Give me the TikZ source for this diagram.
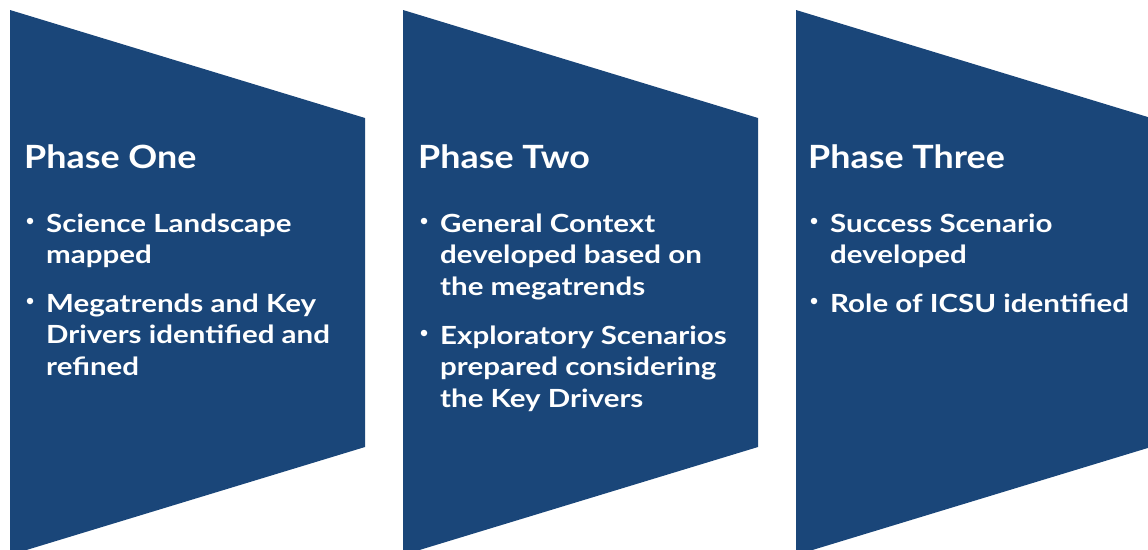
\documentclass[tikz,border=0pt]{standalone}
\usepackage{fontspec}
\setmainfont{Lato}
\newfontfamily\titlefont[FakeStretch=1.12]{Lato}
\newfontfamily\bodyfont[FakeStretch=1.18]{Lato}
\definecolor{phaseblue}{HTML}{1A4679}
\tikzset{
  phase/.style={fill=phaseblue},
  ttl/.style={anchor=base west, inner sep=0pt, text=white, font=\titlefont\bfseries\fontsize{32}{38}\selectfont},
  bul/.style={anchor=base west, inner sep=0pt, text=white, font=\bodyfont\bfseries\fontsize{25}{31}\selectfont},
  dot/.style={circle, fill=white, inner sep=0pt, minimum size=6.5pt},
}
\begin{document}
\begin{tikzpicture}[x=1pt,y=-1pt]
\useasboundingbox (0,0) rectangle (1148,549);
% shapes
\fill[phase] (10,10) -- (365,118) -- (365,447) -- (10,555) -- cycle;
\fill[phase] (403,10) -- (758,118) -- (758,447) -- (403,555) -- cycle;
\fill[phase] (796,10) -- (1151,118) -- (1151,447) -- (796,555) -- cycle;
% Phase One
\node[ttl] (t1) at (24,168) {Phase One};
\node[dot] (b11) at (30,221) {};
\node[bul] (l11) at (46,232) {Science Landscape};
\node[bul] (l12) at (46,263) {mapped};
\node[dot] (b12) at (30,301) {};
\node[bul] (l13) at (46,312) {Megatrends and Key};
\node[bul] (l14) at (46,343) {Drivers identified and};
\node[bul] (l15) at (46,375) {refined};
% Phase Two
\node[ttl] (t2) at (418,168) {Phase Two};
\node[dot] (b21) at (424,221) {};
\node[bul] (l21) at (440,232) {General Context};
\node[bul] (l22) at (440,263) {developed based on};
\node[bul] (l23) at (440,295) {the megatrends};
\node[dot] (b22) at (424,333) {};
\node[bul] (l24) at (440,344) {Exploratory Scenarios};
\node[bul] (l25) at (440,375) {prepared considering};
\node[bul] (l26) at (440,407) {the Key Drivers};
% Phase Three
\node[ttl] (t3) at (808,168) {Phase Three};
\node[dot] (b31) at (814,221) {};
\node[bul] (l31) at (830,232) {Success Scenario};
\node[bul] (l32) at (830,263) {developed};
\node[dot] (b32) at (814,301) {};
\node[bul] (l33) at (830,312) {Role of ICSU identified};
\end{tikzpicture}
\end{document}
